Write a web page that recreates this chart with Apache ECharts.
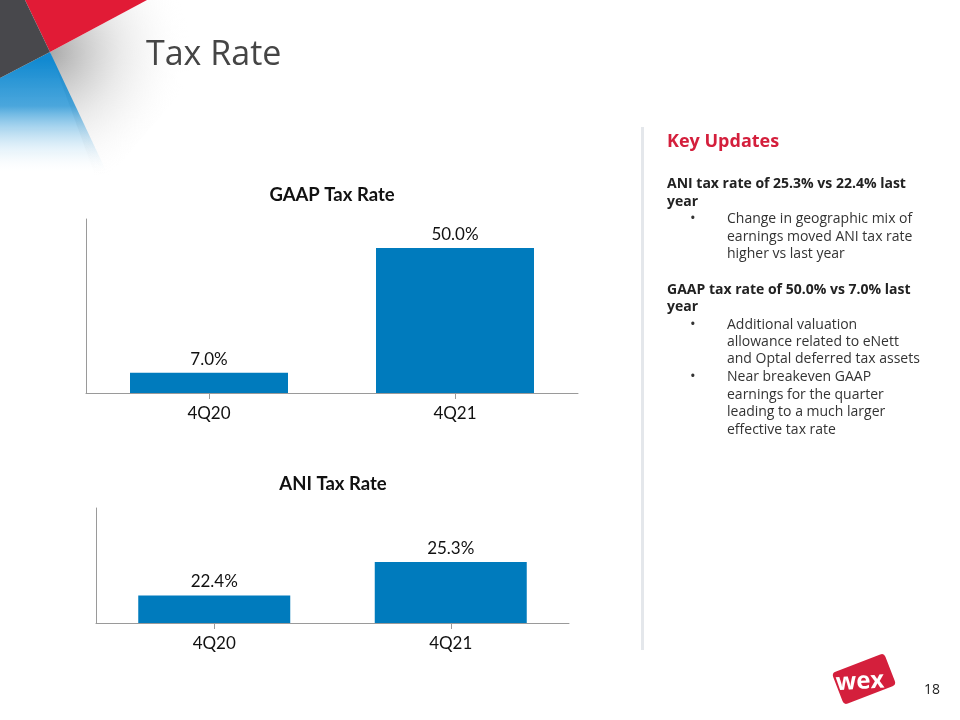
<!DOCTYPE html>
<html><head><meta charset="utf-8">
<script src="https://cdn.jsdelivr.net/npm/echarts@6/dist/echarts.min.js"></script>
<style>html,body{margin:0;padding:0;background:#fff}#c{width:960px;height:720px}</style>
</head><body><div id="c"></div>
<script>
var categories = ['4Q20', '4Q21'];
var gaapValues = [7.0, 50.0];
var aniValues = [22.4, 25.3];
var pageTitle = 'Tax Rate';
var gaapTitle = 'GAAP Tax Rate';
var aniTitle = 'ANI Tax Rate';
var panelLines = [
  ['head', 'Key Updates', 142],
  ['bold', 'ANI tax rate of 25.3% vs 22.4% last', 184],
  ['bold', 'year', 202],
  ['bullet', 'Change in geographic mix of', 219],
  ['text', 'earnings moved ANI tax rate', 237],
  ['text', 'higher vs last year', 254],
  ['bold', 'GAAP tax rate of 50.0% vs 7.0% last', 290],
  ['bold', 'year', 307],
  ['bullet', 'Additional valuation', 325],
  ['text', 'allowance related to eNett', 342],
  ['text', 'and Optal deferred tax assets', 359],
  ['bullet', 'Near breakeven GAAP', 377],
  ['text', 'earnings for the quarter', 395],
  ['text', 'leading to a much larger', 412],
  ['text', 'effective tax rate', 430]
];
var pageNumber = '18';

var FONT = '"Open Sans", "Noto Sans", sans-serif';
var CFONT = 'Lato, "Noto Sans", sans-serif';
var BLUE = '#007BBD';
var RED = '#D41F3C';

var chart = echarts.init(document.getElementById('c'));

var graphics = [];
// decorative corner
graphics.push({type:'polygon', shape:{points:[[50,52],[147,0],[260,0],[110,175],[95,175]]},
  style:{fill:{type:'radial', x:50, y:52, r:140, global:true, colorStops:[{offset:0,color:'#a8a8a8'},{offset:0.5,color:'rgba(225,225,225,0.7)'},{offset:1,color:'rgba(255,255,255,0)'}]}}, z:0});
graphics.push({type:'polygon', shape:{points:[[0,78],[50,52],[108,175],[0,175]]},
  style:{fill:{type:'linear', x:0, y:60, x2:0, y2:175, global:true, colorStops:[{offset:0,color:'#1189D0'},{offset:0.4,color:'rgba(30,145,212,0.8)'},{offset:1,color:'rgba(255,255,255,0)'}]}}, z:1});
graphics.push({type:'polygon', shape:{points:[[25,0],[147,0],[50,52]]}, style:{fill:'#E11B36'}, z:2});
graphics.push({type:'polygon', shape:{points:[[0,0],[25,0],[50,52],[0,78]]}, style:{fill:'#48484C'}, z:3});
// page title
graphics.push({type:'text', left:146, top:38, style:{text:pageTitle, font:'normal 34px ' + FONT, fill:'#454545'}, z:5});
// divider
graphics.push({type:'rect', shape:{x:641, y:127, width:3, height:523}, style:{fill:'#E4E7EB'}, z:5});
// panel text
panelLines.forEach(function(l){
  var kind=l[0], txt=l[1], y=l[2];
  if (kind==='head') {
    graphics.push({type:'text', x:667, y:y, style:{text:txt, font:'bold 18px ' + FONT, fill:RED, verticalAlign:'middle'}, z:5});
  } else if (kind==='bold') {
    graphics.push({type:'text', x:667, y:y, style:{text:txt, font:'bold 14px ' + FONT, fill:'#222', verticalAlign:'middle'}, z:5});
  } else {
    if (kind==='bullet') graphics.push({type:'text', x:690, y:y, style:{text:'\u2022', font:'normal 15px ' + FONT, fill:'#333', verticalAlign:'middle'}, z:5});
    graphics.push({type:'text', x:727, y:y, style:{text:txt, font:'normal 14px ' + FONT, fill:'#333', verticalAlign:'middle'}, z:5});
  }
});
// logo
graphics.push({type:'group', x:864, y:679, rotation:0.37, children:[
  {type:'rect', shape:{x:-28, y:-17, width:56, height:34, r:4}, style:{fill:RED}}
], z:5});
graphics.push({type:'text', x:860, y:682, rotation:0.06, style:{text:'wex', font:'bold 24px ' + FONT, fill:'#fff', align:'center', verticalAlign:'middle'}, z:6});
graphics.push({type:'text', x:932, y:690, style:{text:pageNumber, font:'normal 14px ' + FONT, fill:'#222', align:'center', verticalAlign:'middle'}, z:5});

function xAxisCfg(idx){
  return {type:'category', gridIndex:idx, data:categories,
    axisLine:{show:true, lineStyle:{color:'#9a9a9a', width:1}},
    axisTick:{show:true, alignWithLabel:true, length:6, lineStyle:{color:'#9a9a9a'}},
    axisLabel:{color:'#111', fontSize:17, fontFamily:CFONT, margin:12}};
}
function yAxisCfg(idx, mn, mx){
  return {type:'value', gridIndex:idx, min:mn, max:mx,
    axisLine:{show:true, lineStyle:{color:'#9a9a9a', width:1}},
    axisTick:{show:false}, axisLabel:{show:false}, splitLine:{show:false}};
}
var lbl = {show:true, position:'top', distance:5, color:'#111', fontSize:17, fontFamily:CFONT,
  formatter:function(p){return p.value.toFixed(1)+'%';}};

chart.setOption({
  animation:false,
  title:[
    {text:gaapTitle, left:327, top:181, textAlign:'center', textStyle:{fontSize:18.5, fontWeight:'bold', color:'#111', fontFamily:CFONT}},
    {text:aniTitle, left:328, top:470, textAlign:'center', textStyle:{fontSize:18.5, fontWeight:'bold', color:'#111', fontFamily:CFONT}}
  ],
  grid:[
    {left:86, top:219, width:492, height:174},
    {left:96, top:508, width:473, height:115}
  ],
  xAxis:[xAxisCfg(0), xAxisCfg(1)],
  yAxis:[yAxisCfg(0,0,60), yAxisCfg(1,20,30)],
  series:[
    {type:'bar', xAxisIndex:0, yAxisIndex:0, data:gaapValues, barWidth:158, itemStyle:{color:BLUE}, label:lbl},
    {type:'bar', xAxisIndex:1, yAxisIndex:1, data:aniValues, barWidth:152, itemStyle:{color:BLUE}, label:lbl}
  ],
  graphic:graphics
});
</script></body></html>
